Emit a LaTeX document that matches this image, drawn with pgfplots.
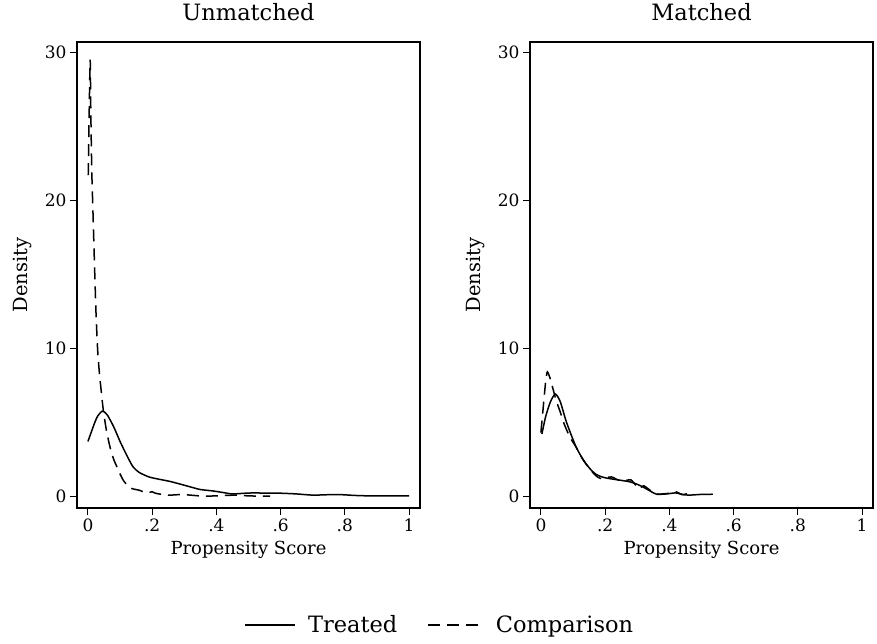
\documentclass[border=0pt]{standalone}
\usepackage{fontspec}
\setmainfont{DejaVu Serif}
\usepackage{pgfplots}
\pgfplotsset{compat=1.18}

\pgfplotsset{
  panel/.style={
    scale only axis,
    width=343pt, height=466pt,
    xmin=-0.034, xmax=1.034,
    ymin=-0.8, ymax=30.7,
    xtick={0,0.2,0.4,0.6,0.8,1},
    xticklabels={0,.2,.4,.6,.8,1},
    ytick={0,10,20,30},
    tick align=outside,
    major tick length=7pt,
    xtick pos=bottom, ytick pos=left,
    axis line style={line width=1.1pt},
    every tick/.style={line width=1.1pt, black},
    tick label style={font=\fontsize{17}{17}\selectfont},
    label style={font=\fontsize{18}{18}\selectfont},
    title style={font=\fontsize{22.5}{22.5}\selectfont,
      at={(axis description cs:0.5,1.052)}, anchor=center},
    xlabel={Propensity Score},
    ylabel={Density},
    xlabel style={at={(axis description cs:0.5,-0.090)}, anchor=center},
    ylabel style={at={(axis description cs:-0.16,0.5)}, anchor=center,
      font=\fontsize{19.5}{19.5}\selectfont},
    /pgf/number format/assume math mode=true,
    clip=true,
  },
  treated/.style={black, line width=1.5pt, smooth, tension=0.4},
  comp/.style={black, line width=1.5pt, dash pattern=on 12pt off 7pt, smooth, tension=0.4},
  treatedleg/.style={legend image code/.code={%
    \draw[##1] (0pt,0pt) -- (50pt,0pt); \path (60pt,0pt);}},
  compleg/.style={legend image code/.code={%
    \path (-28pt,0pt); \draw[##1] (0pt,0pt) -- (55pt,0pt); \path (65pt,0pt);}},
}

\begin{document}
\begin{tikzpicture}
\useasboundingbox (-77pt,-136pt) rectangle (800pt,508pt);
\begin{axis}[panel, title={Unmatched},
  legend columns=2,
  legend style={draw=none, at={(axis description cs:1.058,-0.251)}, anchor=center,
    font=\fontsize{22.5}{22.5}\selectfont},
]
\addplot[treated, treatedleg] coordinates {
(0,3.7) (0.01,4.3) (0.02,4.9) (0.03,5.4) (0.045,5.75) (0.06,5.5) (0.08,4.7)
(0.1,3.7) (0.12,2.8) (0.14,2.0) (0.16,1.6) (0.19,1.3) (0.22,1.15) (0.255,1.0)
(0.29,0.8) (0.32,0.62) (0.35,0.45) (0.39,0.35) (0.42,0.25) (0.45,0.15)
(0.49,0.2) (0.52,0.22) (0.56,0.2) (0.6,0.2) (0.65,0.15) (0.7,0.07) (0.75,0.1)
(0.79,0.1) (0.83,0.05) (0.875,0.02) (0.93,0.02) (1,0.02)
};
\addlegendentry{Treated}
\addplot[comp, compleg] coordinates {
(0.001,21.7) (0.004,26) (0.007,29.5) (0.009,26) (0.012,22) (0.016,19)
(0.02,16) (0.025,12.5) (0.03,10) (0.035,8.5) (0.04,7.4) (0.048,5.8)
(0.058,4.4) (0.069,3.3) (0.08,2.5) (0.09,2.0) (0.1,1.5) (0.11,1.08)
(0.12,0.8) (0.136,0.52) (0.16,0.4) (0.183,0.22) (0.2,0.3) (0.21,0.2)
(0.23,0.12) (0.255,0.07) (0.28,0.1) (0.3,0.1) (0.33,0.05) (0.36,0.0)
(0.4,0.02) (0.43,0.05) (0.463,0.07) (0.5,0.02) (0.54,0.0) (0.567,0.0)
};
\addlegendentry{Comparison}
\end{axis}

\begin{axis}[panel, title={Matched}, xshift=453pt]
\addplot[treated] coordinates {
(0.003,4.2) (0.015,5.4) (0.03,6.4) (0.045,6.9) (0.06,6.4) (0.078,5.1)
(0.095,4.1) (0.11,3.3) (0.125,2.7) (0.14,2.2) (0.155,1.8) (0.17,1.5)
(0.19,1.3) (0.21,1.2) (0.24,1.1) (0.277,0.97) (0.3,0.8) (0.317,0.63)
(0.34,0.35) (0.36,0.13) (0.39,0.15) (0.42,0.22) (0.44,0.12) (0.46,0.07)
(0.5,0.12) (0.535,0.13)
};
\addplot[comp] coordinates {
(0.0,4.3) (0.008,6.2) (0.015,7.8) (0.02,8.4) (0.028,8.0) (0.037,7.3)
(0.047,6.5) (0.06,5.7) (0.072,4.9) (0.09,4.0) (0.11,3.3) (0.13,2.5)
(0.15,1.9) (0.17,1.4) (0.185,1.2) (0.2,1.25) (0.22,1.3) (0.24,1.1)
(0.26,1.05) (0.28,1.1) (0.295,0.75) (0.305,0.5) (0.32,0.7) (0.34,0.4)
(0.36,0.15) (0.38,0.15) (0.4,0.2) (0.42,0.3) (0.44,0.1) (0.46,0.2) (0.47,0.3)
};
\end{axis}
\end{tikzpicture}
\end{document}
